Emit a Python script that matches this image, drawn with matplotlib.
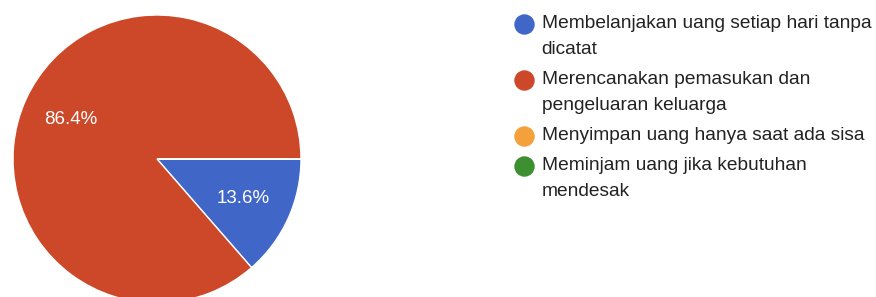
import matplotlib.pyplot as plt

plt.rcParams['font.family'] = ['Liberation Sans', 'DejaVu Sans']

# data
labels = ["Membelanjakan uang setiap hari tanpa\ndicatat",
          "Merencanakan pemasukan dan\npengeluaran keluarga",
          "Menyimpan uang hanya saat ada sisa",
          "Meminjam uang jika kebutuhan\nmendesak"]
values = [13.6, 86.4, 0, 0]
colors = ['#4066C8', '#CC4828', '#F4A13B', '#3D8F32']

W, H = 876, 297
fig = plt.figure(figsize=(W / 100, H / 100), dpi=100)

# pie centre ~ (157, 159) px from top-left, radius ~144 px
cx, cy, r = 157, 159, 144
ax = fig.add_axes([(cx - r) / W, (H - cy - r) / H, 2 * r / W, 2 * r / H])


def pct(p):
    return "%.1f%%" % p if p > 0.5 else ""


wedges, texts, autotexts = ax.pie(values, colors=colors, startangle=0,
                                  counterclock=False, autopct=pct,
                                  pctdistance=0.66, radius=1,
                                  wedgeprops=dict(edgecolor='white', linewidth=1),
                                  textprops=dict(color='white', fontsize=13.5))
ax.set_xlim(-1, 1)
ax.set_ylim(-1, 1)
ax.set_axis_off()

# hand-made legend in pixel coords (top-left origin)
lax = fig.add_axes([0, 0, 1, 1])
lax.set_xlim(0, W)
lax.set_ylim(H, 0)
lax.set_axis_off()

line_h = 26
gap = 30
y = 24
for lab, c in zip(labels, colors):
    lax.plot(523.5, y, 'o', markersize=13.7, color=c)
    for k, part in enumerate(lab.split("\n")):
        lax.text(541.5, y + k * line_h, part, fontsize=13.8, color='#222222',
                 va='center', ha='left')
    y += (lab.count("\n")) * line_h + gap

fig.savefig('out.png', dpi=100)
